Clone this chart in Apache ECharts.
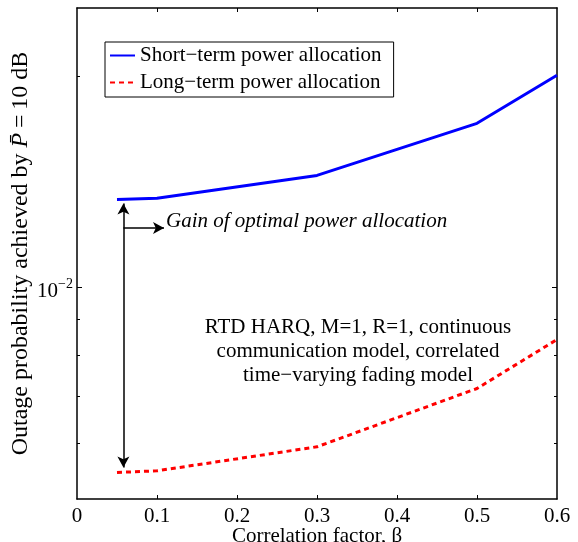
<!DOCTYPE html>
<html>
<head>
<meta charset="utf-8">
<script src="https://cdn.jsdelivr.net/npm/echarts@6/dist/echarts.min.js"></script>
<style>html,body{margin:0;padding:0;background:#fff}#c{width:578px;height:542px}</style>
</head>
<body>
<div id="c"></div>
<script>
const betas = [0.05, 0.1, 0.3, 0.5, 0.6];
const shortTerm = [0.01334, 0.01340, 0.01444, 0.01713, 0.02005];
const longTerm = [0.005454, 0.005484, 0.005933, 0.007183, 0.008433];
const xTicks = [0, 0.1, 0.2, 0.3, 0.4, 0.5, 0.6];
const yMajorTicks = [0.01];
const yMinorTicks = [0.006, 0.007, 0.008, 0.009, 0.02];
const seriesNames = ['Short\u2212term power allocation', 'Long\u2212term power allocation'];
const gainArrowX = 0.058, gainArrowTop = 0.01317, gainArrowBottom = 0.005545;
const gainPointerY = 0.012155, gainPointerEnd = 0.1088;

const FONT = 'Liberation Serif, Times New Roman, serif';
const chart = echarts.init(document.getElementById('c'));

const yBase = {
  type: 'log', logBase: 10, min: 0.005, max: 0.025,
  splitLine: { show: false }, minorTick: { show: false }
};
function yAx(pos, ticks, len, label, line) {
  return Object.assign({}, yBase, {
    position: pos,
    axisLine: { show: line, lineStyle: { color: '#000', width: 1.5 } },
    axisTick: { show: true, inside: true, length: len, customValues: ticks, lineStyle: { color: '#000', width: 1 } },
    axisLabel: label ? {
      show: true, customValues: yMajorTicks, margin: 4,
      formatter: () => '{b|10}{s|\u22122}',
      rich: {
        b: { fontFamily: FONT, fontSize: 21, color: '#000', padding: [8, 0, 0, 0] },
        s: { fontFamily: FONT, fontSize: 14, color: '#000', padding: [0, 0, 6, 0] }
      }
    } : { show: false },
    name: label ? '{a|Outage probability achieved by }{i|P\u0304}{a|\u2009=\u200910 dB}' : '',
    nameLocation: 'middle', nameGap: 44, nameRotate: 90, nameMoveOverlap: false,
    nameTextStyle: {
      rich: {
        a: { fontFamily: FONT, fontSize: 24, color: '#000' },
        i: { fontFamily: FONT, fontSize: 24, fontStyle: 'italic', color: '#000' }
      }
    }
  });
}
function xAx(pos, label) {
  return {
    type: 'value', min: 0, max: 0.6, interval: 0.1, position: pos,
    splitLine: { show: false },
    axisLine: { show: true, lineStyle: { color: '#000', width: 1.5 } },
    axisTick: { show: true, inside: true, length: 4, customValues: xTicks.slice(1, -1), lineStyle: { color: '#000' } },
    axisLabel: label ? { show: true, customValues: xTicks, fontFamily: FONT, fontSize: 21, color: '#000', margin: 7,
      formatter: v => String(+v.toFixed(1)) } : { show: false },
    name: label ? 'Correlation factor, \u03b2' : '',
    nameLocation: 'middle', nameGap: 27, nameMoveOverlap: false,
    nameTextStyle: { fontFamily: FONT, fontSize: 21, color: '#000' }
  };
}

chart.setOption({
  animation: false,
  backgroundColor: '#fff',
  grid: { left: 77, right: 21, top: 8, bottom: 43, containLabel: false, outerBoundsMode: 'none' },
  xAxis: [xAx('bottom', true), xAx('top', false)],
  yAxis: [
    yAx('left', yMajorTicks, 5, true, true),
    yAx('left', yMinorTicks, 3, false, false),
    yAx('right', yMajorTicks, 5, false, true),
    yAx('right', yMinorTicks, 3, false, false)
  ],
  legend: {
    left: 105, top: 42, orient: 'vertical',
    padding: [3, 12, 4, 4], itemGap: 6, itemWidth: 25, itemHeight: 14,
    borderColor: '#000', borderWidth: 1, backgroundColor: '#fff',
    itemStyle: { color: 'rgba(0,0,0,0)', borderColor: 'rgba(0,0,0,0)', borderWidth: 0 },
    textStyle: { fontFamily: FONT, fontSize: 21, color: '#000', lineHeight: 21 },
    data: seriesNames
  },
  series: [
    {
      name: seriesNames[0], type: 'line', xAxisIndex: 0, yAxisIndex: 0,
      data: betas.map((b, i) => [b, shortTerm[i]]),
      symbol: 'none', lineStyle: { color: '#0000ff', width: 3 }, itemStyle: { color: '#0000ff' },
      markLine: {
        silent: true, animation: false, label: { show: false },
        symbolSize: [9, 11],
        lineStyle: { color: '#000', width: 1.5, type: 'solid' },
        data: [
          [{ coord: [gainArrowX, gainArrowTop], symbol: 'arrow' }, { coord: [gainArrowX, gainArrowBottom], symbol: 'arrow' }],
          [{ coord: [gainArrowX, gainPointerY], symbol: 'none' }, { coord: [gainPointerEnd, gainPointerY], symbol: 'arrow' }]
        ]
      }
    },
    {
      name: seriesNames[1], type: 'line', xAxisIndex: 0, yAxisIndex: 0,
      data: betas.map((b, i) => [b, longTerm[i]]),
      symbol: 'none', lineStyle: { color: '#ff0000', width: 3, type: [5, 4] }, itemStyle: { color: '#ff0000' }
    }
  ],
  graphic: [
    { type: 'text', left: 166, top: 211, style: { text: 'Gain of optimal power allocation', fontFamily: FONT, fontSize: 21, fontStyle: 'italic', fill: '#000' } },
    { type: 'text', x: 358, y: 351, style: {
      text: 'RTD HARQ, M=1, R=1, continuous\ncommunication model, correlated\ntime\u2212varying fading model',
      fontFamily: FONT, fontSize: 21, lineHeight: 24, fill: '#000', align: 'center', verticalAlign: 'middle' } }
  ]
});
</script>
</body>
</html>
